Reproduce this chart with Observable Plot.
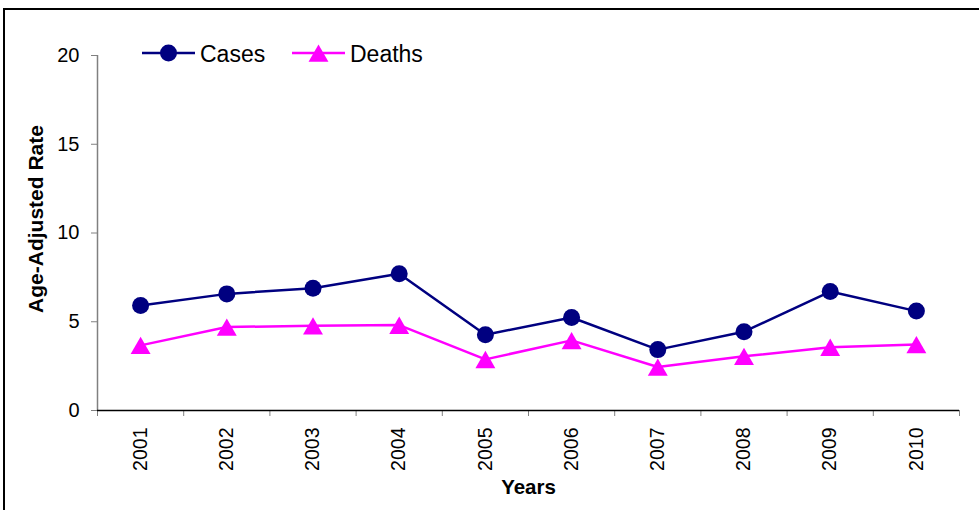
<!DOCTYPE html>
<html>
<head>
<meta charset="utf-8">
<script src="https://cdn.jsdelivr.net/npm/d3@7"></script>
<script src="https://cdn.jsdelivr.net/npm/@observablehq/plot@0.6"></script>
<style>
  html, body { margin: 0; padding: 0; background: #fff; overflow: hidden; }
  #wrap { position: relative; width: 979px; height: 510px; overflow: hidden; }
  #border { position: absolute; left: 3px; top: 8px; width: 1100px; height: 700px; border: 2px solid #000; box-sizing: border-box; }
  #chart { position: absolute; left: 0; top: 0; }
  #legend { position: absolute; left: 0; top: 0; }
</style>
</head>
<body>
<div id="wrap">
  <div id="border"></div>
  <div id="chart"></div>
  <svg id="legend" width="979" height="90"></svg>
</div>
<script>
const years = [2001, 2002, 2003, 2004, 2005, 2006, 2007, 2008, 2009, 2010];
const cases = [5.92, 6.57, 6.89, 7.70, 4.27, 5.24, 3.43, 4.44, 6.70, 5.60];
const deaths = [3.67, 4.70, 4.78, 4.81, 2.88, 3.95, 2.45, 3.05, 3.57, 3.72];
const yTicks = [0, 5, 10, 15, 20];
const seriesNames = ["Cases", "Deaths"];
const seriesColors = ["#000080", "#FF00FF"];

const data = years.map((year, i) => ({year, cases: cases[i], deaths: deaths[i]}));
const xDomain = [years[0] - 0.5, years[years.length - 1] + 0.5];
const boundaries = years.map(y => y - 0.5).concat([xDomain[1]]);

const font = "'Liberation Sans', Arial, sans-serif";

const chart = Plot.plot({
  width: 979,
  height: 510,
  marginLeft: 97,
  marginRight: 20,
  marginTop: 55,
  marginBottom: 100,
  style: {fontFamily: font, fontSize: "20px", background: "transparent", color: "#000"},
  x: {type: "linear", domain: xDomain},
  y: {domain: [0, 20]},
  marks: [
    Plot.axisY({ticks: yTicks, tickSize: 6, tickPadding: 12, stroke: "#808080", fill: "#000", label: null, fontSize: 20}),
    Plot.axisX({ticks: boundaries, tickSize: 6, tickFormat: () => "", stroke: "#808080", label: null}),
    Plot.axisX({ticks: years, tickSize: 0, tickPadding: 17, tickRotate: -90, tickFormat: d => String(d), fill: "#000", label: null, fontSize: 19.5}),
    Plot.ruleX([xDomain[0]], {stroke: "#808080", strokeWidth: 1.5}),
    Plot.ruleY([0], {stroke: "#000", strokeWidth: 1.5}),
    Plot.line(data, {x: "year", y: "deaths", stroke: seriesColors[1], strokeWidth: 2.5}),
    Plot.dot(data, {x: "year", y: "deaths", symbol: "triangle", r: 7.4, dy: 3, fill: seriesColors[1], stroke: "none"}),
    Plot.line(data, {x: "year", y: "cases", stroke: seriesColors[0], strokeWidth: 2.5}),
    Plot.dot(data, {x: "year", y: "cases", r: 8.5, fill: seriesColors[0], stroke: "none"}),
    Plot.text(["Age-Adjusted Rate"], {frameAnchor: "left", textAnchor: "middle", dx: -61, dy: -14, rotate: -90, fontWeight: "bold", fontSize: 21, fill: "#000"}),
    Plot.text(["Years"], {frameAnchor: "bottom", dy: 83, fontWeight: "bold", fontSize: 20.5, fill: "#000"})
  ]
});
document.getElementById("chart").appendChild(chart);

// Legend overlay
const lg = d3.select("#legend");
const items = [
  {name: seriesNames[0], color: seriesColors[0], symbol: d3.symbolCircle, size: Math.PI * 8.5 * 8.5, x: 142, dy: 0},
  {name: seriesNames[1], color: seriesColors[1], symbol: d3.symbolTriangle, size: Math.PI * 7.4 * 7.4, x: 292, dy: 3}
];
items.forEach(it => {
  const g = lg.append("g").attr("transform", `translate(${it.x},53)`);
  g.append("line").attr("x1", 0).attr("x2", 53).attr("y1", 0).attr("y2", 0)
    .attr("stroke", it.color).attr("stroke-width", 2.5);
  g.append("path").attr("d", d3.symbol(it.symbol, it.size)())
    .attr("transform", `translate(26.5,${it.dy})`).attr("fill", it.color);
  g.append("text").attr("x", 58).attr("y", 8.5).text(it.name)
    .attr("font-family", font).attr("font-size", 23).attr("fill", "#000");
});
</script>
</body>
</html>
